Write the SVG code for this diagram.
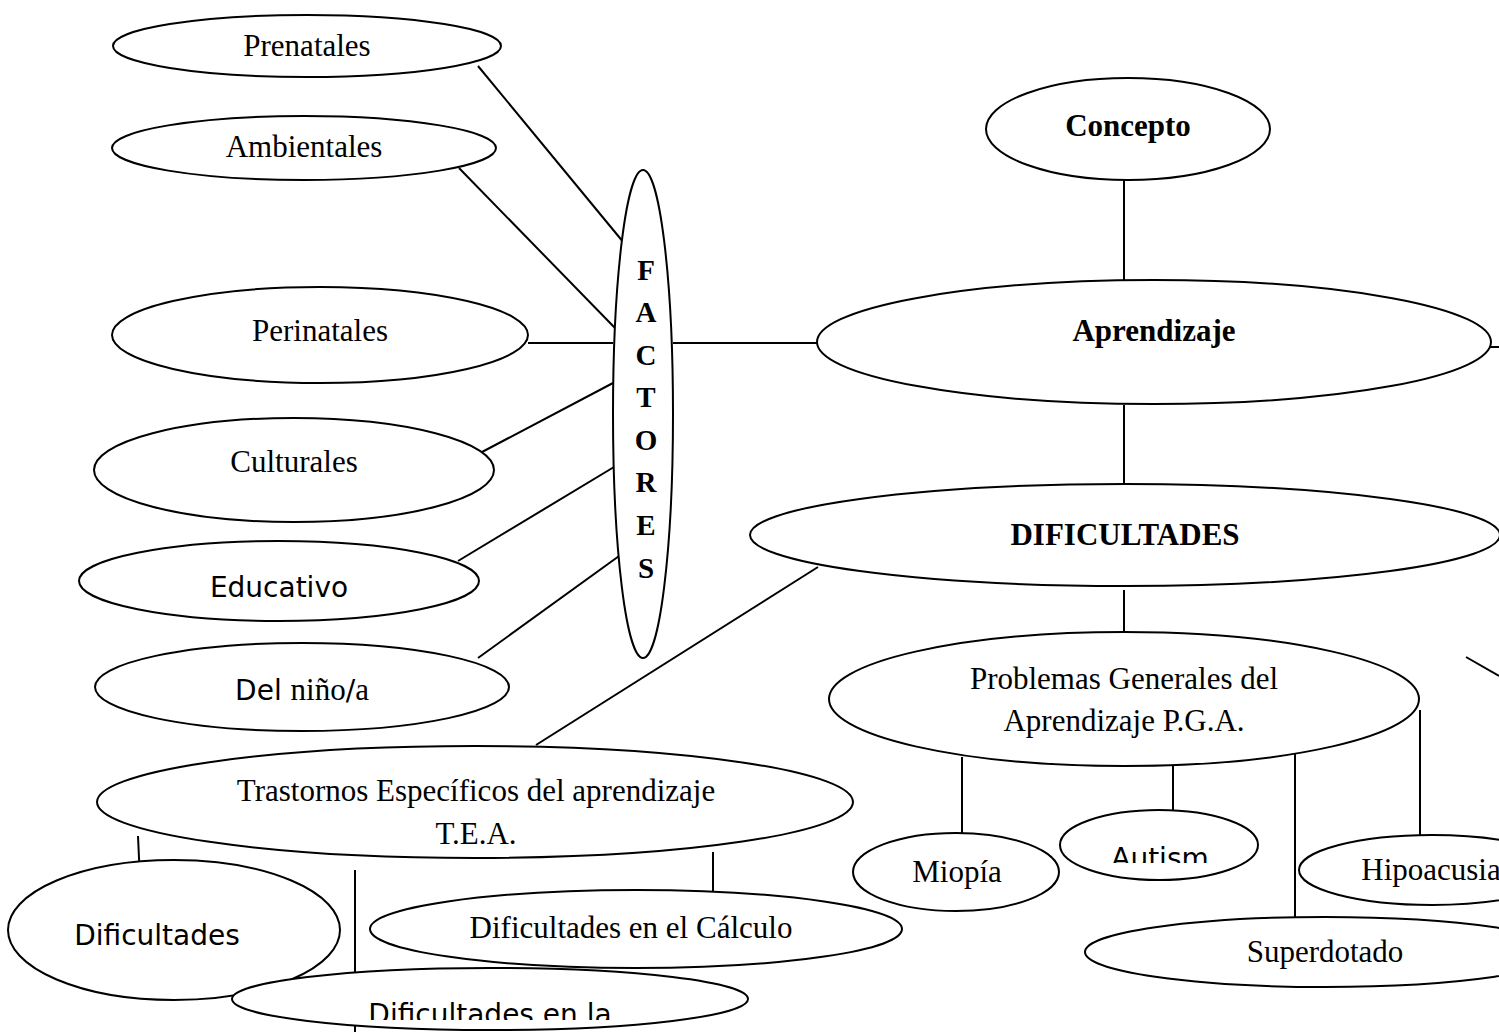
<svg xmlns="http://www.w3.org/2000/svg" width="1499" height="1032" viewBox="0 0 1499 1032">
<style>
.n{fill:#fff;stroke:#000;stroke-width:2}
.c line{stroke:#000;stroke-width:2}
.t{font-family:"Liberation Serif","Times New Roman",serif;font-size:31px;fill:#000;text-anchor:middle}
.b{font-weight:bold}
.f{font-size:29px}
.s{font-family:"DejaVu Sans","Liberation Sans",sans-serif;font-size:28px;fill:#000;text-anchor:middle}
.sr{font-family:"Liberation Serif","Times New Roman",serif;font-size:31px}
</style>
<defs>
<clipPath id="cAut"><rect x="1060" y="800" width="200" height="63"/></clipPath>
<clipPath id="cDla"><rect x="230" y="990" width="520" height="30"/></clipPath>
</defs>
<g id="connectors" class="c">
<line x1="478" y1="66" x2="624" y2="243"/>
<line x1="459" y1="168" x2="615" y2="328"/>
<line x1="528" y1="343" x2="613" y2="343"/>
<line x1="673" y1="343" x2="817" y2="343"/>
<line x1="482" y1="452" x2="613" y2="383"/>
<line x1="458" y1="561" x2="614" y2="467"/>
<line x1="478" y1="658" x2="626" y2="551"/>
<line x1="1124" y1="180" x2="1124" y2="283"/>
<line x1="1124" y1="405" x2="1124" y2="490"/>
<line x1="1490" y1="347" x2="1499" y2="347"/>
<line x1="1124" y1="590" x2="1124" y2="632"/>
<line x1="818" y1="567" x2="536" y2="745"/>
<line x1="1466" y1="657" x2="1499" y2="676"/>
<line x1="962" y1="757" x2="962" y2="834"/>
<line x1="1173" y1="766" x2="1173" y2="812"/>
<line x1="1295" y1="754" x2="1295" y2="917"/>
<line x1="1420" y1="710" x2="1420" y2="835"/>
<line x1="138" y1="836" x2="140" y2="880"/>
<line x1="355" y1="870" x2="355" y2="1032"/>
<line x1="713" y1="852" x2="713" y2="891"/>
</g>
<g id="prenatales"><ellipse class="n" cx="307" cy="46" rx="194" ry="31"/><text class="t" x="307" y="56">Prenatales</text></g>
<g id="ambientales"><ellipse class="n" cx="304" cy="148" rx="192" ry="32"/><text class="t" x="304" y="157">Ambientales</text></g>
<g id="perinatales"><ellipse class="n" cx="320" cy="335" rx="208" ry="48"/><text class="t" x="320" y="341">Perinatales</text></g>
<g id="culturales"><ellipse class="n" cx="294" cy="470" rx="200" ry="52"/><text class="t" x="294" y="472">Culturales</text></g>
<g id="educativo"><ellipse class="n" cx="279" cy="581" rx="200" ry="40"/><text class="s" x="279" y="597">Educativo</text></g>
<g id="delnino"><ellipse class="n" cx="302" cy="687" rx="207" ry="44"/><text class="s" x="302" y="700">Del <tspan class="sr">niño</tspan>/<tspan class="sr">a</tspan></text></g>
<g id="factores"><ellipse class="n" cx="643" cy="414" rx="30" ry="244"/>
<text class="t b f" x="646" y="280">F</text><text class="t b f" x="646" y="322">A</text><text class="t b f" x="646" y="365">C</text><text class="t b f" x="646" y="407">T</text><text class="t b f" x="646" y="450">O</text><text class="t b f" x="646" y="492">R</text><text class="t b f" x="646" y="535">E</text><text class="t b f" x="646" y="578">S</text></g>
<g id="concepto"><ellipse class="n" cx="1128" cy="129" rx="142" ry="51"/><text class="t b" x="1128" y="136">Concepto</text></g>
<g id="aprendizaje"><ellipse class="n" cx="1154" cy="342" rx="337" ry="62"/><text class="t b" x="1154" y="341">Aprendizaje</text></g>
<g id="dificultades"><ellipse class="n" cx="1125" cy="535" rx="375" ry="51"/><text class="t b" x="1125" y="545">DIFICULTADES</text></g>
<g id="pga"><ellipse class="n" cx="1124" cy="699" rx="295" ry="67"/><text class="t" x="1124" y="689">Problemas Generales del</text><text class="t" x="1124" y="731">Aprendizaje P.G.A.</text></g>
<g id="tea"><ellipse class="n" cx="475" cy="802" rx="378" ry="56"/><text class="t" x="476" y="801">Trastornos Específicos del aprendizaje</text><text class="t" x="476" y="844">T.E.A.</text></g>
<g id="miopia"><ellipse class="n" cx="956" cy="872" rx="103" ry="39"/><text class="t" x="957" y="882">Miopía</text></g>
<g id="autism"><ellipse class="n" cx="1159" cy="845" rx="99" ry="35"/><text class="s" x="1160" y="868" clip-path="url(#cAut)">Autism</text></g>
<g id="hipoacusia"><ellipse class="n" cx="1432" cy="870" rx="133" ry="35"/><text class="t" x="1431" y="880">Hipoacusia</text></g>
<g id="superdotado"><ellipse class="n" cx="1325" cy="952" rx="240" ry="35"/><text class="t" x="1325" y="962">Superdotado</text></g>
<g id="calculo"><ellipse class="n" cx="636" cy="929" rx="266" ry="39"/><text class="t" x="631" y="938">Dificultades en el Cálculo</text></g>
<g id="dif-left"><ellipse class="n" cx="174" cy="930" rx="166" ry="70"/><text class="s" x="157" y="945">Dificultades</text></g>
<g id="dif-enla"><ellipse class="n" cx="490" cy="999" rx="258" ry="31"/><text class="s" x="490" y="1024" clip-path="url(#cDla)">Dificultades en la</text></g>
</svg>
